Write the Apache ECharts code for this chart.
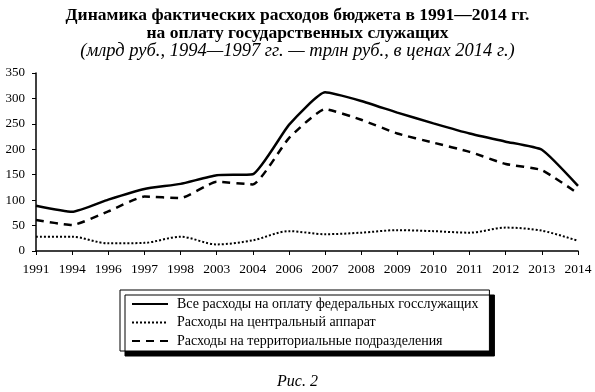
<!DOCTYPE html>
<html><head><meta charset="utf-8">
<script src="https://cdn.jsdelivr.net/npm/echarts@6/dist/echarts.min.js"></script>
<style>html,body{margin:0;padding:0;background:#fff}#c{width:595px;height:392px}</style>
</head><body><div id="c"></div>
<script>
const yearsAll = ['1991','1994','1996','1997','1998','2003','2004','2006','2007','2008','2009','2010','2011','2012','2013','2014'];
const totalSpend = [89, 77, 101, 122, 132, 149, 151, 248, 312, 295, 272, 251, 231, 215, 199, 128];
const centralSpend = [28, 28, 15, 16, 28, 13, 21, 39, 33, 36, 41, 39, 36, 46, 40, 20];
const territorialSpend = [61, 51, 78, 107, 104, 136, 131, 222, 279, 258, 231, 213, 195, 171, 159, 113];
const seriesNames = ['Все расходы на оплату федеральных госслужащих','Расходы на центральный аппарат','Расходы на территориальные подразделения'];
const font = '"Liberation Serif", "DejaVu Serif", serif';
const chart = echarts.init(document.getElementById('c'));
chart.setOption({
  animation: false,
  title: [{
    text: 'Динамика фактических расходов бюджета в 1991—2014 гг.\nна оплату государственных служащих',
    subtext: '(млрд руб., 1994—1997 гг. — трлн руб., в ценах 2014 г.)',
    left: 'center', top: 1, itemGap: 0,
    textStyle: {fontFamily: font, fontWeight: 'bold', fontSize: 17.5, lineHeight: 18, color: '#000'},
    subtextStyle: {fontFamily: font, fontStyle: 'italic', fontSize: 18.5, lineHeight: 18, color: '#000'}
  }, {
    text: 'Рис. 2', left: 'center', top: 369,
    textStyle: {fontFamily: font, fontStyle: 'italic', fontWeight: 'normal', fontSize: 16, color: '#000'}
  }],
  grid: {left: 36, right: 17, top: 73, bottom: 141},
  legend: {
    orient: 'vertical', left: 120, top: 290,
    itemWidth: 36, itemHeight: 14, itemGap: 4.5,
    padding: [7, 11, 3, 11],
    backgroundColor: '#fff', borderColor: '#000', borderWidth: 1,
    shadowColor: '#000', shadowBlur: 0, shadowOffsetX: 5, shadowOffsetY: 5,
    itemStyle: {opacity: 0},
    textStyle: {fontFamily: font, fontSize: 14, color: '#000', padding: [0, 0, 0, 4]},
    data: seriesNames
  },
  xAxis: {
    type: 'category', data: yearsAll, boundaryGap: false,
    axisLine: {lineStyle: {color: '#000', width: 1.5}},
    axisTick: {show: true, length: 4, lineStyle: {color: '#000'}},
    axisLabel: {fontFamily: font, fontSize: 13.5, color: '#000', margin: 11, interval: 0}
  },
  yAxis: {
    type: 'value', min: 0, max: 350, interval: 50,
    axisLine: {show: true, lineStyle: {color: '#000', width: 1.5}},
    axisTick: {show: true, length: 4, lineStyle: {color: '#000'}},
    splitLine: {show: false},
    axisLabel: {fontFamily: font, fontSize: 13, color: '#000', margin: 11}
  },
  series: [
    {name: seriesNames[0], type: 'line', data: totalSpend, symbol: 'none', smooth: 0.15,
     lineStyle: {color: '#000', width: 2.5, type: 'solid'}, itemStyle: {color: '#000'}},
    {name: seriesNames[1], type: 'line', data: centralSpend, symbol: 'none', smooth: 0.3,
     lineStyle: {color: '#000', width: 2, type: [2, 2]}, itemStyle: {color: '#000'}},
    {name: seriesNames[2], type: 'line', data: territorialSpend, symbol: 'none', smooth: 0.15,
     lineStyle: {color: '#000', width: 2.5, type: [8, 6]}, itemStyle: {color: '#000'}}
  ]
});
</script></body></html>
